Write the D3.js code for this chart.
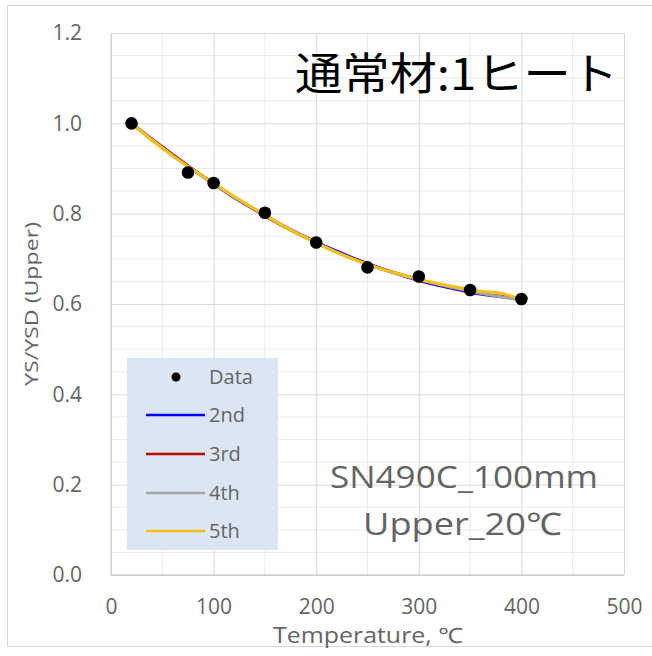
<!DOCTYPE html>
<html>
<head>
<meta charset="utf-8">
<script src="https://cdn.jsdelivr.net/npm/d3@7"></script>
<style>
  html, body { margin: 0; padding: 0; background: #fff; }
  svg { display: block; }
</style>
</head>
<body>
<svg id="chart" width="652" height="656"></svg>
<script>
// Measured points: temperature (°C) vs YS/YSD ratio
const dataTemp = [20, 75, 100, 150, 200, 250, 300, 350, 400];
const dataRatio = [1.000, 0.891, 0.868, 0.802, 0.736, 0.681, 0.661, 0.631, 0.611];

// Polynomial fit curves sampled along the temperature range
const fitTemp = [20, 40, 60, 80, 100, 120, 140, 160, 180, 200, 220, 240, 260, 280, 300, 320, 340, 360, 380, 400];
const fit2nd = [1.000, 0.964, 0.929, 0.897, 0.866, 0.836, 0.809, 0.783, 0.759, 0.737, 0.717, 0.698, 0.681, 0.666, 0.652, 0.641, 0.631, 0.622, 0.616, 0.611];
const fit3rd = [0.999, 0.965, 0.931, 0.898, 0.867, 0.837, 0.809, 0.782, 0.758, 0.736, 0.715, 0.697, 0.681, 0.667, 0.654, 0.643, 0.633, 0.624, 0.617, 0.612];
const fit4th = [1.001, 0.964, 0.929, 0.896, 0.866, 0.837, 0.810, 0.784, 0.759, 0.736, 0.715, 0.696, 0.680, 0.666, 0.654, 0.643, 0.633, 0.624, 0.616, 0.609];
const fit5th = [1.000, 0.962, 0.928, 0.897, 0.867, 0.838, 0.810, 0.783, 0.758, 0.735, 0.714, 0.696, 0.680, 0.667, 0.655, 0.645, 0.636, 0.628, 0.624, 0.610];

const seriesNames = ["2nd", "3rd", "4th", "5th"];
const seriesColors = ["#0000ff", "#c00000", "#a5a5a5", "#f2c21b"];

const xTicks = [0, 100, 200, 300, 400, 500];
const yTicks = [0.0, 0.2, 0.4, 0.6, 0.8, 1.0, 1.2];

const titleText = "通常材:1ヒート";
const noteLines = ["SN490C_100mm", "Upper_20℃"];
const xTitle = "Temperature, ℃";
const yTitle = "YS/YSD (Upper)";

const svg = d3.select("#chart");
const plot = { left: 111, right: 624, top: 33, bottom: 575 };

const x = d3.scaleLinear().domain([0, 500]).range([plot.left, plot.right]);
const y = d3.scaleLinear().domain([0, 1.2]).range([plot.bottom, plot.top]);

const labelFont = "'Open Sans', 'Noto Sans', sans-serif";
const labelColor = "#646464";

// Outer chart frame
svg.append("rect")
  .attr("x", 7.5).attr("y", 5.5)
  .attr("width", 680).attr("height", 641)
  .attr("fill", "none").attr("stroke", "#d9d9d9").attr("stroke-width", 1);

// Minor grid (every 50 °C and 0.05)
const gMinor = svg.append("g");
gMinor.selectAll("line.vx")
  .data(d3.range(50, 500, 100))
  .join("line")
  .attr("x1", d => x(d)).attr("x2", d => x(d))
  .attr("y1", plot.top).attr("y2", plot.bottom)
  .attr("stroke", "#ebebeb").attr("stroke-width", 1);
gMinor.selectAll("line.hy")
  .data(d3.range(0, 24).map(i => i * 0.05 + 0.05).filter((d, i) => (i + 1) % 4 !== 0))
  .join("line")
  .attr("x1", plot.left).attr("x2", plot.right)
  .attr("y1", d => y(d)).attr("y2", d => y(d))
  .attr("stroke", "#ebebeb").attr("stroke-width", 1);

// Major grid via axes
const xGrid = d3.axisBottom(x).tickValues(xTicks).tickSize(-(plot.bottom - plot.top)).tickFormat("");
svg.append("g")
  .attr("transform", `translate(0,${plot.bottom})`)
  .call(xGrid)
  .call(g => g.select(".domain").remove())
  .call(g => g.selectAll("line").attr("stroke", "#d9d9d9"));

const yGrid = d3.axisLeft(y).tickValues(yTicks).tickSize(-(plot.right - plot.left)).tickFormat("");
svg.append("g")
  .attr("transform", `translate(${plot.left},0)`)
  .call(yGrid)
  .call(g => g.select(".domain").remove())
  .call(g => g.selectAll("line").attr("stroke", "#d9d9d9"));

// Axis lines
svg.append("line")
  .attr("x1", plot.left).attr("x2", plot.left)
  .attr("y1", plot.top).attr("y2", plot.bottom)
  .attr("stroke", "#d0d0d0");
svg.append("line")
  .attr("x1", plot.left).attr("x2", plot.right)
  .attr("y1", plot.bottom).attr("y2", plot.bottom)
  .attr("stroke", "#bfbfbf");

// Tick labels
const xAxis = d3.axisBottom(x).tickValues(xTicks).tickSize(0).tickPadding(24).tickFormat(d3.format("d"));
svg.append("g")
  .attr("transform", `translate(0,${plot.bottom})`)
  .call(xAxis)
  .call(g => g.select(".domain").remove())
  .call(g => g.selectAll("text")
    .attr("font-family", labelFont).attr("font-size", 21).attr("fill", labelColor));

const yAxis = d3.axisLeft(y).tickValues(yTicks).tickSize(0).tickPadding(29).tickFormat(d3.format(".1f"));
svg.append("g")
  .attr("transform", `translate(${plot.left},0)`)
  .call(yAxis)
  .call(g => g.select(".domain").remove())
  .call(g => g.selectAll("text")
    .attr("font-family", labelFont).attr("font-size", 21).attr("fill", labelColor));

// Axis titles
svg.append("text")
  .attr("x", 273).attr("y", 643)
  .attr("font-family", labelFont).attr("font-size", 21).attr("fill", labelColor)
  .attr("textLength", 190).attr("lengthAdjust", "spacingAndGlyphs")
  .text(xTitle);

svg.append("text")
  .attr("transform", `translate(38,${(plot.top + plot.bottom) / 2}) rotate(-90)`)
  .attr("text-anchor", "middle")
  .attr("font-family", labelFont).attr("font-size", 19).attr("fill", labelColor)
  .attr("textLength", 164).attr("lengthAdjust", "spacingAndGlyphs")
  .text(yTitle);

// Fit curves
const fits = [fit2nd, fit3rd, fit4th, fit5th];
const line = d3.line()
  .x(d => x(d[0]))
  .y(d => y(d[1]))
  .curve(d3.curveCatmullRom.alpha(0.5));

svg.append("g").selectAll("path")
  .data(fits.map((vals, i) => ({ name: seriesNames[i], color: seriesColors[i], pts: fitTemp.map((t, j) => [t, vals[j]]) })))
  .join("path")
  .attr("d", d => line(d.pts))
  .attr("fill", "none")
  .attr("stroke", d => d.color)
  .attr("stroke-width", 3)
  .attr("stroke-linejoin", "round");

// Data points
svg.append("g").selectAll("circle")
  .data(dataTemp.map((t, i) => [t, dataRatio[i]]))
  .join("circle")
  .attr("cx", d => x(d[0]))
  .attr("cy", d => y(d[1]))
  .attr("r", 6.3)
  .attr("fill", "#000");

// Legend
const legend = svg.append("g");
legend.append("rect")
  .attr("x", 127).attr("y", 358)
  .attr("width", 151).attr("height", 192)
  .attr("fill", "#dce6f2");

const legendRows = [{ name: "Data", type: "dot" }].concat(seriesNames.map((n, i) => ({ name: n, type: "line", color: seriesColors[i] })));
const rowY = [377, 415, 454, 493, 531];
legendRows.forEach((r, i) => {
  if (r.type === "dot") {
    legend.append("circle").attr("cx", 176).attr("cy", rowY[i]).attr("r", 4.5).attr("fill", "#000");
  } else {
    legend.append("line")
      .attr("x1", 146).attr("x2", 205)
      .attr("y1", rowY[i]).attr("y2", rowY[i])
      .attr("stroke", r.color).attr("stroke-width", 2.6);
  }
  legend.append("text")
    .attr("x", 209).attr("y", rowY[i] + 7)
    .attr("font-family", labelFont).attr("font-size", 20).attr("fill", labelColor)
    .text(r.name);
});

// Heading inside the plot
svg.append("text")
  .attr("x", 295).attr("y", 90)
  .attr("font-family", "'Noto Sans CJK JP', sans-serif")
  .attr("font-size", 44)
  .attr("fill", "#000")
  .attr("textLength", 323).attr("lengthAdjust", "spacingAndGlyphs")
  .text(titleText);

// Specimen note
const noteX = [[330, 268], [363, 199]];
const noteBase = [488, 535];
noteLines.forEach((t, i) => {
  svg.append("text")
    .attr("x", noteX[i][0]).attr("y", noteBase[i])
    .attr("font-family", labelFont).attr("font-size", 31).attr("fill", labelColor)
    .attr("textLength", noteX[i][1]).attr("lengthAdjust", "spacingAndGlyphs")
    .text(t);
});
</script>
</body>
</html>
